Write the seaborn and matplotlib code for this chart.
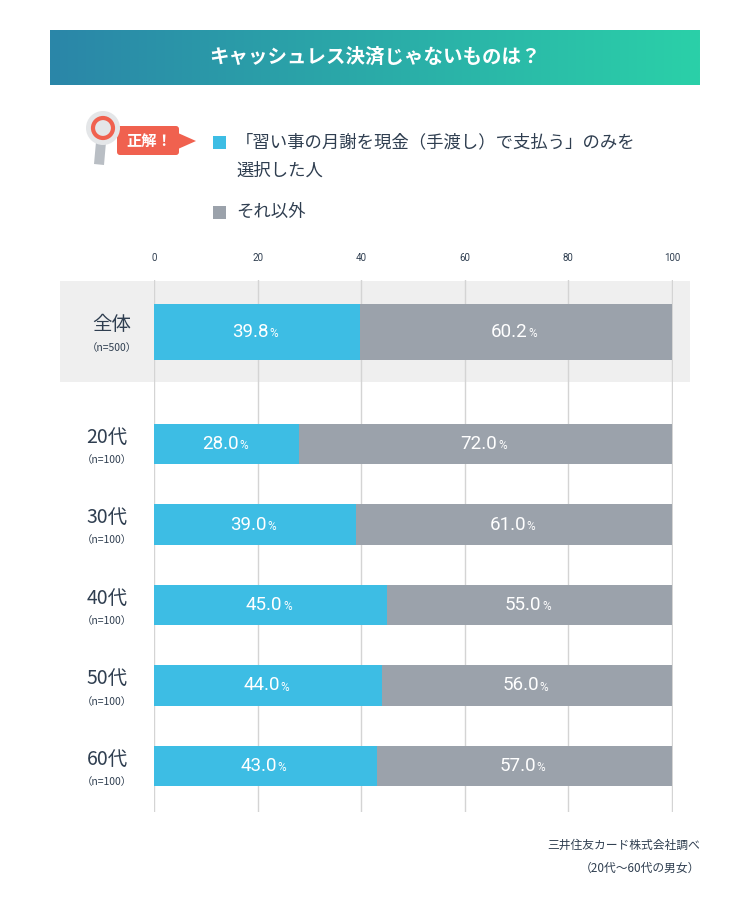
import matplotlib
matplotlib.use("Agg")
import matplotlib.pyplot as plt
import matplotlib.patches as mpatches
import numpy as np
import pandas as pd
import seaborn as sns

plt.rcParams["font.family"] = "Noto Sans CJK JP"

BLUE = "#3dbde4"
GREY = "#9ba2ab"
TEXT = "#2f3e50"
NUMFONT = "Roboto"

total_label = "全体"
total_n = "（n=500）"
total_value = 39.8

ages = ["20代", "30代", "40代", "50代", "60代"]
age_n = ["（n=100）"] * 5
age_values = [28.0, 39.0, 45.0, 44.0, 43.0]

ticks = [0, 20, 40, 60, 80, 100]

W, H = 750, 899
fig = plt.figure(figsize=(W / 100, H / 100), dpi=100)
fig.patch.set_facecolor("white")

# overlay in pixel coords for decorations
ov = fig.add_axes([0, 0, 1, 1], zorder=-1)
ov.set_xlim(0, W)
ov.set_ylim(H, 0)
ov.axis("off")

# title banner gradient
grad = np.linspace(0, 1, 256).reshape(1, -1)
cmap = matplotlib.colors.LinearSegmentedColormap.from_list("g", ["#2a86a8", "#2bd0a8"])
ov.imshow(grad, cmap=cmap, extent=[50, 700, 85, 30], aspect="auto")
ov.text(375, 57, "キャッシュレス決済じゃないものは？", color="white", fontsize=14,
        fontweight="bold", ha="center", va="center")

# grey band behind total
ov.add_patch(mpatches.Rectangle((60, 281), 630, 101, color="#efefef", lw=0))

# icon
ov.add_patch(mpatches.Polygon([[96, 142], [106, 142], [104, 165], [94, 164]],
                              closed=True, color="#b9bec4", lw=0, zorder=3))
ov.add_patch(mpatches.Circle((103, 128), 17, color="#e4e6e8", lw=0, zorder=4))
ov.add_patch(mpatches.Circle((103, 128), 10, fill=False, ec="#f0614f", lw=3, zorder=5))
ov.add_patch(mpatches.FancyBboxPatch((117, 126), 62, 29, boxstyle="round,pad=0,rounding_size=3",
                                     color="#f0614f", lw=0, zorder=3))
ov.add_patch(mpatches.Polygon([[178, 133], [196, 141], [178, 149]], color="#f0614f", lw=0, zorder=3))
ov.text(149, 141, "正解！", color="white", fontsize=11, fontweight="bold",
        ha="center", va="center", zorder=6)

# legend
ov.add_patch(mpatches.Rectangle((213, 136), 13, 13, color=BLUE, lw=0))
ov.text(236, 142, "「習い事の月謝を現金（手渡し）で支払う」のみを", color=TEXT, fontsize=12.5, va="center")
ov.text(236, 171, "選択した人", color=TEXT, fontsize=12.5, va="center")
ov.add_patch(mpatches.Rectangle((213, 206), 13, 13, color=GREY, lw=0))
ov.text(236, 212, "それ以外", color=TEXT, fontsize=12.5, va="center")

# source
ov.text(700, 845, "三井住友カード株式会社調べ", color=TEXT, fontsize=8.5, ha="right", va="center")
ov.text(700, 868, "（20代〜60代の男女）", color=TEXT, fontsize=8.5, ha="right", va="center")

x0, x1 = 154 / W, 673 / W


def pix_axes(top, bottom):
    return fig.add_axes([x0, 1 - bottom / H, x1 - x0, (bottom - top) / H])


def style(ax):
    ax.set_xlim(0, 100.2)
    ax.set_facecolor("none")
    for s in ax.spines.values():
        s.set_visible(False)
    ax.set_xticks(ticks)
    ax.grid(axis="x", color="#d4d4d4", lw=1)
    ax.grid(axis="y", visible=False)
    ax.set_axisbelow(True)
    ax.set_xlabel("")
    ax.set_ylabel("")
    ax.tick_params(length=0)


def label_bars(ax, values, ypos):
    for y, v in zip(ypos, values):
        for cx, val in ((v / 2, v), (v + (100 - v) / 2, 100 - v)):
            ax.text(cx + 2.3, y, f"{val:.1f}", color="white", fontsize=13.5,
                    family=NUMFONT, ha="right", va="center")
            ax.text(cx + 2.4, y + 0.02, "%", color="white", family=NUMFONT,
                    fontsize=8.5, ha="left", va="center")


# total axes
df_t = pd.DataFrame({"cat": [total_label], "val": [total_value], "full": [100.0]})
ax_t = pix_axes(280, 382)
sns.barplot(data=df_t, y="cat", x="full", color=GREY, width=1.0, ax=ax_t, saturation=1)
sns.barplot(data=df_t, y="cat", x="val", color=BLUE, width=1.0, ax=ax_t, saturation=1)
style(ax_t)
ax_t.set_ylim((382 - 332) / 56, (280 - 332) / 56)
ax_t.xaxis.tick_top()
ax_t.set_xticklabels([str(t) for t in ticks], fontsize=7, color=TEXT, family=NUMFONT)
ax_t.tick_params(axis="x", pad=12)
ax_t.set_yticklabels([])
label_bars(ax_t, [total_value], [0])
ov.text(112, 325, total_label, color=TEXT, fontsize=14, ha="center", va="center")
ov.text(112, 348, total_n, color=TEXT, fontsize=7.5, ha="center", va="center")

# age axes
df_a = pd.DataFrame({"cat": ages, "val": age_values, "full": [100.0] * len(ages)})
ax_a = pix_axes(382, 812)
sns.barplot(data=df_a, y="cat", x="full", color=GREY, width=0.5, ax=ax_a, saturation=1)
sns.barplot(data=df_a, y="cat", x="val", color=BLUE, width=0.5, ax=ax_a, saturation=1)
style(ax_a)
ax_a.set_ylim((812 - 444) / 80.5, (382 - 444) / 80.5)
ax_a.set_xticklabels([])
ax_a.set_yticklabels([])
label_bars(ax_a, age_values, range(len(ages)))
for i, (a, n) in enumerate(zip(ages, age_n)):
    yc = 444 + i * 80.5
    ov.text(107, yc - 7, a, color=TEXT, fontsize=14, ha="center", va="center")
    ov.text(107, yc + 16, n, color=TEXT, fontsize=7.5, ha="center", va="center")

fig.savefig("out.png", dpi=100)
